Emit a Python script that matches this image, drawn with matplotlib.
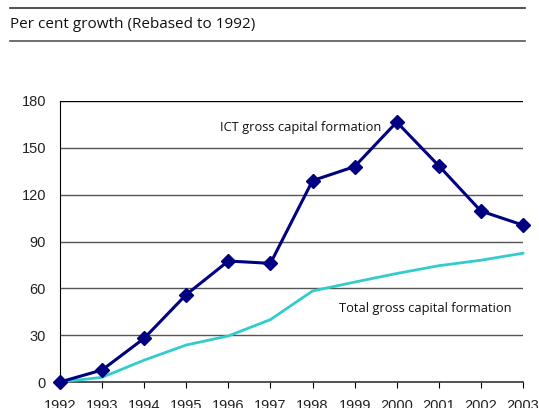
import matplotlib.pyplot as plt
from matplotlib.lines import Line2D

# ======================
# DATA
# ======================
years = [1992, 1993, 1994, 1995, 1996, 1997, 1998, 1999, 2000, 2001, 2002, 2003]
ict_gcf = [0, 7.7, 28, 56, 77.5, 76, 129, 138, 166.5, 138.5, 109.5, 100.5]
total_gcf = [0, 3, 14, 23.7, 29.5, 40, 58.3, 64, 69.5, 74.5, 78, 82.5]
y_ticks = [0, 30, 60, 90, 120, 150, 180]

W, H = 539, 408
fig = plt.figure(figsize=(W / 100, H / 100), dpi=100)

# header rules + caption
fig.add_artist(Line2D([10 / W, 525 / W], [1 - 8 / H, 1 - 8 / H], color="#333333", lw=1.2))
fig.add_artist(Line2D([10 / W, 525 / W], [1 - 41 / H, 1 - 41 / H], color="#555555", lw=1.2))
fig.text(10 / W, 1 - 24 / H, "Per cent growth (Rebased to 1992)", fontsize=11,
         family="Open Sans", va="center", ha="left", color="#111111")

# plot area
left, right, top, bottom = 60, 523, 101, 382
ax = fig.add_axes([left / W, 1 - bottom / H, (right - left) / W, (bottom - top) / H])

ax.plot(years, total_gcf, color="#33CCCC", lw=2, zorder=3, clip_on=False)
ax.plot(years, ict_gcf, color="#000080", lw=2.2, marker="D", markersize=7, zorder=4, clip_on=False)

ax.set_xlim(years[0], years[-1])
ax.set_ylim(0, 180)
ax.set_yticks(y_ticks)
ax.set_xticks(years)
for v in y_ticks[1:]:
    ax.axhline(v, color="#000000" if v == 180 else "#555555", lw=1, zorder=1)

for s in ["top", "right"]:
    ax.spines[s].set_visible(False)
ax.spines["left"].set_color("black")
ax.spines["bottom"].set_color("#333333")
ax.spines["bottom"].set_linewidth(1.2)
ax.tick_params(axis="y", length=0, pad=10, labelsize=10.5, labelcolor="#222222")
ax.tick_params(axis="x", length=4, direction="out", pad=8, labelsize=10.5, labelcolor="#222222")
for lbl in ax.get_xticklabels() + ax.get_yticklabels():
    lbl.set_family("Liberation Sans")

ax.text(1995.8, 163, "ICT gross capital formation", fontsize=9.3, family="Open Sans",
        va="center", ha="left", color="#111111")
ax.text(1998.63, 47.4, "Total gross capital formation", fontsize=9.3, family="Open Sans",
        va="center", ha="left", color="#111111")

plt.savefig("out.png", dpi=100)
plt.close()
